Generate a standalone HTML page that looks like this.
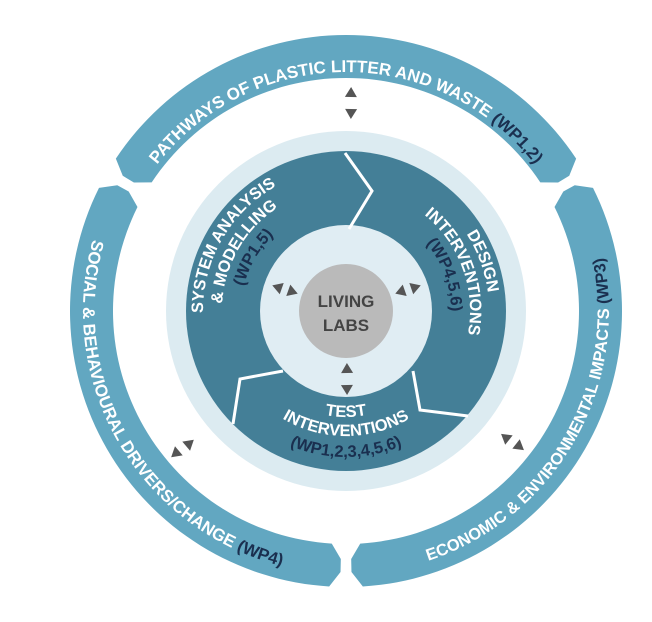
<!DOCTYPE html>
<html><head><meta charset="utf-8">
<style>
html,body{margin:0;padding:0;background:#fff;}
svg{display:block;}
text{font-family:"Liberation Sans",Arial,sans-serif;font-weight:bold;}
</style></head>
<body>
<svg id="s" width="652" height="622" viewBox="0 0 652 622" xmlns="http://www.w3.org/2000/svg">
<defs id="d"></defs>
<g id="g"></g>
</svg>
<script>
var cx=346, cy=311;
var NS="http://www.w3.org/2000/svg";
function P(r,a){var t=a*Math.PI/180;return [(cx+r*Math.cos(t)).toFixed(2),(cy-r*Math.sin(t)).toFixed(2)];}
function arc(r,a1,a2){var p=P(r,a2);var large=Math.abs(a2-a1)>180?1:0;var sw=a2>a1?0:1;return "A"+r+" "+r+" 0 "+large+" "+sw+" "+p[0]+" "+p[1];}
function arcPath(r,a1,a2){var p=P(r,a1);return "M"+p[0]+" "+p[1]+arc(r,a1,a2);}
var g=document.getElementById("g"), defs=document.getElementById("d");
function el(tag,attrs,parent){var e=document.createElementNS(NS,tag);for(var k in attrs)e.setAttribute(k,attrs[k]);(parent||g).appendChild(e);return e;}
var Ri=233,Ro=276,dl=2.3;
function seg(s,e){
 return "M"+P(Ro,s).join(" ")+arc(Ro,s,e)
  +"L"+P(Ro-15,e+dl).join(" ")+"L"+P(Ri+15,e+dl).join(" ")+"L"+P(Ri,e).join(" ")
  +arc(Ri,e,s)
  +"L"+P(Ri+15,s-dl).join(" ")+"L"+P(Ro-15,s-dl).join(" ")+"Z";
}
[[33.5,146.5],[153.5,266.5],[273.5,386.5]].forEach(function(x){el("path",{d:seg(x[0],x[1]),fill:"#62a7c1"});});
el("circle",{cx:cx,cy:cy,r:180,fill:"#dcebf1"});
el("circle",{cx:cx,cy:cy,r:160,fill:"#447f97"});
el("circle",{cx:cx,cy:cy,r:86,fill:"#e0edf3"});
el("circle",{cx:cx,cy:cy,r:47,fill:"#bababa"});
["M345 153 L372 191 L349 229","M233 424 L240 379 L283 371","M413 371 L420 410 L468 416"].forEach(function(d){el("path",{d:d,fill:"none",stroke:"#fff","stroke-width":3});});
var pid=0;
function ptext(r,a1,a2,size,parts,ls){
 var id="p"+(pid++);
 el("path",{id:id,d:arcPath(r,a1,a2),fill:"none"},defs);
 var t=el("text",{"font-size":size,"letter-spacing":ls||0});
 var tp=el("textPath",{href:"#"+id,startOffset:"50%","text-anchor":"middle"},t);
 tp.setAttributeNS("http://www.w3.org/1999/xlink","xlink:href","#"+id);
 parts.forEach(function(p){var ts=el("tspan",{fill:p[1]},tp);ts.textContent=p[0];});
}
var W="#ffffff",N="#1a2f4f";
ptext(239,175,5,17,[["PATHWAYS OF PLASTIC LITTER AND WASTE ",W],["(WP1,2)",N]]);
ptext(263,130,290,17,[["SOCIAL & BEHAVIOURAL DRIVERS/CHANGE ",W],["(WP4)",N]]);
ptext(263,250,410,16.5,[["ECONOMIC & ENVIRONMENTAL IMPACTS ",W],["(WP3)",N]]);
ptext(143,230,70,16.5,[["SYSTEM ANALYSIS",W]]);
ptext(124,230,70,16.5,[["& MODELLING",W]]);
ptext(105,230,70,16.5,[["(WP1,5)",N]]);
ptext(143,100,-60,16.5,[["DESIGN",W]]);
ptext(124,100,-60,16.5,[["INTERVENTIONS",W]]);
ptext(105,100,-60,16.5,[["(WP4,5,6)",N]]);
ptext(106,190,350,16.5,[["TEST",W]]);
ptext(125,190,350,16.5,[["INTERVENTIONS",W]]);
ptext(146,190,350,16.5,[["(WP1,2,3,4,5,6)",N]]);
var t=el("text",{x:cx,y:cy-4,"font-size":17,fill:"#444","text-anchor":"middle"});t.textContent="LIVING";
t=el("text",{x:cx,y:cy+20,"font-size":17,fill:"#444","text-anchor":"middle"});t.textContent="LABS";
function tri(x,y,inward){
 var dx=cx-x,dy=cy-y,l=Math.sqrt(dx*dx+dy*dy);dx/=l;dy/=l;if(!inward){dx=-dx;dy=-dy;}
 var h=10,w=6,px=-dy,py=dx;
 var tip=[x+dx*h/2,y+dy*h/2],b1=[x-dx*h/2+px*w,y-dy*h/2+py*w],b2=[x-dx*h/2-px*w,y-dy*h/2-py*w];
 el("path",{d:"M"+tip.join(" ")+"L"+b1.join(" ")+"L"+b2.join(" ")+"Z",fill:"#555"});
}
tri(351,92,false);tri(351,114,true);
tri(277,287,false);tri(293,292,true);
tri(400,292,true);tri(416,287,false);
tri(347,368,true);tri(347,390,false);
tri(175,454,false);tri(190,443,true);
tri(505,437,true);tri(520,447,false);
</script>
</body></html>
